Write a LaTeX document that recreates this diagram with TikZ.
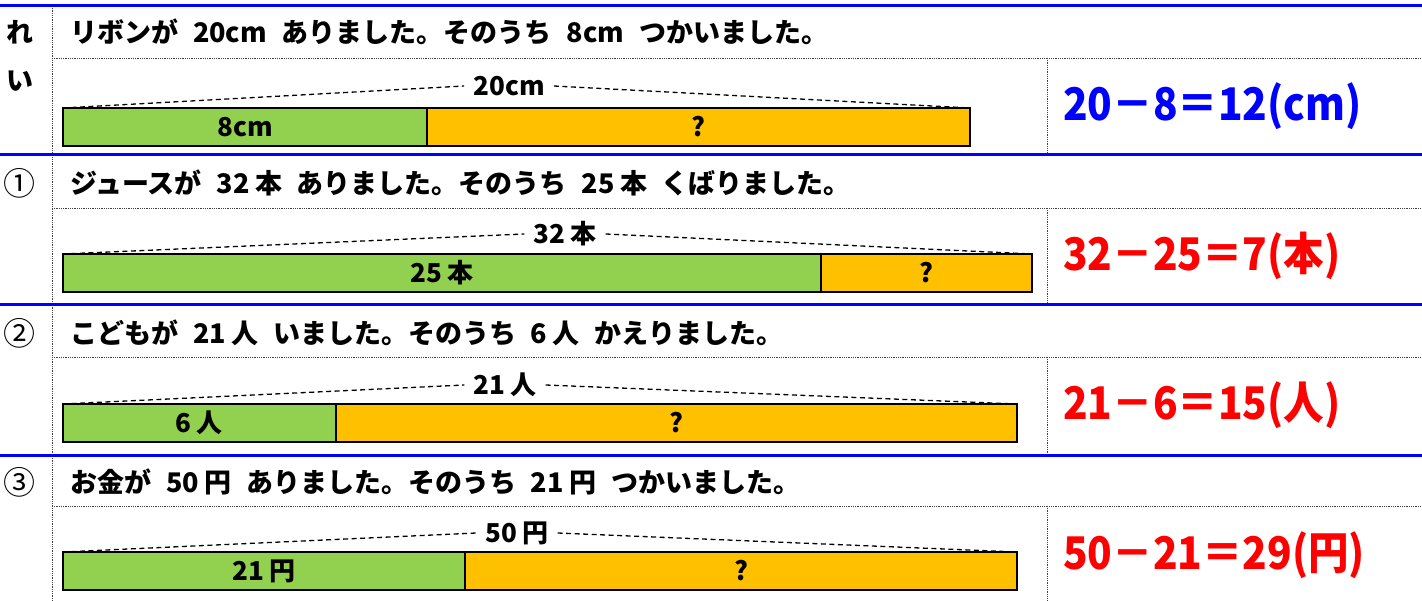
\documentclass[tikz,border=0pt]{standalone}
\usepackage{fontspec}
\setmainfont{Noto Sans CJK JP}[WordSpace=2.4]
\usetikzlibrary{positioning}

\definecolor{barGreen}{HTML}{92D050}
\definecolor{barOrange}{HTML}{FFC000}
\definecolor{ruleBlue}{HTML}{0000FF}
\definecolor{ansRed}{HTML}{FF0000}

\newcommand{\unitgap}{\kern0.2em}

\tikzset{
  bluerule/.style={ruleBlue, line width=3pt},
  dotrule/.style={black!75, densely dotted, line width=0.8pt},
  barbox/.style={draw=black, line width=1.6pt, minimum height=38pt, inner sep=0pt, outer sep=0pt, font=\fontsize{26}{26}\selectfont\bfseries},
  greenbar/.style={barbox, fill=barGreen, anchor=north west},
  orangebar/.style={barbox, fill=barOrange},
  totallabel/.style={inner sep=9pt, font=\fontsize{26}{26}\selectfont\bfseries},
  dashline/.style={black, dash pattern=on 5pt off 3.5pt, line width=1.3pt},
  rowmark/.style={font=\fontsize{27}{27}\selectfont\bfseries},
  circmark/.style={font=\fontsize{32}{32}\selectfont},
  question/.style={anchor=west, inner sep=0pt, font=\fontsize{27}{27}\selectfont\bfseries},
  answer/.style={anchor=west, inner sep=0pt, xscale=0.9, font=\fontsize{45}{45}\selectfont\bfseries}
}

\begin{document}
\begin{tikzpicture}[x=1pt, y=-1pt]
	\useasboundingbox (0,0) rectangle (1422,601);
	
	% ================= 罫線 =================
	\draw[dotrule] (52,6) -- (52,601);
	\draw[dotrule] (52,58) -- (1422,58);
	\draw[dotrule] (52,208) -- (1422,208);
	\draw[dotrule] (52,357) -- (1422,357);
	\draw[dotrule] (52,506) -- (1422,506);
	\draw[dotrule] (1047,58) -- (1047,155);
	\draw[dotrule] (1047,208) -- (1047,305);
	\draw[dotrule] (1047,357) -- (1047,455);
	\draw[dotrule] (1047,506) -- (1047,601);
	\draw[bluerule] (0,6) -- (1422,6);
	\draw[bluerule] (0,155) -- (1422,155);
	\draw[bluerule] (0,305) -- (1422,305);
	\draw[bluerule] (0,455) -- (1422,455);
	
	% ================= れい =================
	\node[rowmark] (m0a) at (20,32) {れ};
	\node[rowmark] (m0b) at (20,81) {い};
	\node[question] (q0) at (70,32) {リボンが 20cm ありました。そのうち 8cm つかいました。};
	
	\node[greenbar, minimum width=364pt] (g0) at (63,108) {8cm};
	\node[orangebar, minimum width=543pt, right=0pt of g0] (o0) {?};
	\node[totallabel] (t0) at (509,86) {20cm};
	\draw[dashline] (g0.north west) -- (t0.west);
	\draw[dashline] (t0.east) -- (o0.north east);
	\node[answer, ruleBlue] (a0) at (1063,106) {20－8＝12(cm)};
	
	% ================= ① =================
	\node[circmark] (m1) at (20,183) {①};
	\node[question] (q1) at (70,183) {ジュースが 32\unitgap 本 ありました。そのうち 25\unitgap 本 くばりました。};
	
	\node[greenbar, minimum width=758pt] (g1) at (63,254) {25\unitgap 本};
	\node[orangebar, minimum width=211pt, right=0pt of g1] (o1) {?};
	\node[totallabel] (t1) at (565,234) {32\unitgap 本};
	\draw[dashline] (g1.north west) -- (t1.west);
	\draw[dashline] (t1.east) -- (o1.north east);
	\node[answer, ansRed] (a1) at (1063,256) {32－25＝7(本)};
	
	% ================= ② =================
	\node[circmark] (m2) at (20,333) {②};
	\node[question] (q2) at (70,333) {こどもが 21\unitgap 人 いました。そのうち 6\unitgap 人 かえりました。};
	
	\node[greenbar, minimum width=273pt] (g2) at (63,404) {6\unitgap 人};
	\node[orangebar, minimum width=681pt, right=0pt of g2] (o2) {?};
	\node[totallabel] (t2) at (505,385) {21\unitgap 人};
	\draw[dashline] (g2.north west) -- (t2.west);
	\draw[dashline] (t2.east) -- (o2.north east);
	\node[answer, ansRed] (a2) at (1063,405) {21－6＝15(人)};
	
	% ================= ③ =================
	\node[circmark] (m3) at (20,482) {③};
	\node[question] (q3) at (70,482) {お金が 50\unitgap 円 ありました。そのうち 21\unitgap 円 つかいました。};
	
	\node[greenbar, minimum width=402pt] (g3) at (63,552) {21\unitgap 円};
	\node[orangebar, minimum width=552pt, right=0pt of g3] (o3) {?};
	\node[totallabel] (t3) at (517,533) {50\unitgap 円};
	\draw[dashline] (g3.north west) -- (t3.west);
	\draw[dashline] (t3.east) -- (o3.north east);
	\node[answer, ansRed] (a3) at (1063,555) {50－21＝29(円)};
\end{tikzpicture}
\end{document}
